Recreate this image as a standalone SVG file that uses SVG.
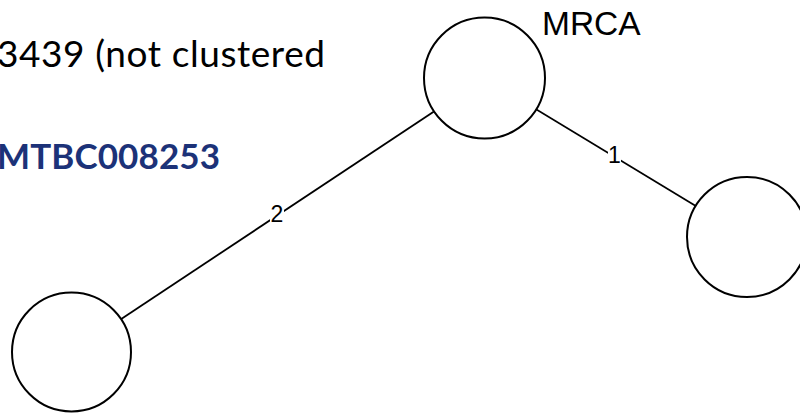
<svg xmlns="http://www.w3.org/2000/svg" width="800" height="414" viewBox="0 0 800 414">
<style>
.node{fill:#fff;stroke:#000;stroke-width:2}
.edge{stroke:#000;stroke-width:1.8}
.elab{font-family:"Liberation Sans",Arial,sans-serif;font-size:23px;fill:#000;text-anchor:middle}
.lbg{fill:#fff}
</style>
<rect width="800" height="414" fill="#fff"/>
<g id="connectors">
<line class="edge" x1="484.5" y1="78" x2="71.5" y2="352"/>
<line class="edge" x1="484.5" y1="78" x2="747" y2="237"/>
<rect class="lbg" x="270" y="204" width="14" height="18"/>
<text class="elab" x="277" y="221.5">2</text>
<rect class="lbg" x="608" y="145" width="13" height="18"/>
<text class="elab" x="614.5" y="162.5">1</text>
</g>
<g id="mrca"><circle class="node" cx="484.5" cy="78" r="60.5"/>
<text x="542" y="35" font-family="Liberation Sans,Arial,sans-serif" font-size="33.5">MRCA</text></g>
<g id="leaf1"><circle class="node" cx="747" cy="237" r="60"/></g>
<g id="leaf2"><circle class="node" cx="71.5" cy="352" r="59.5"/></g>
<g id="labels">
<text x="-3" y="67" font-family="Lato,'Open Sans',sans-serif" font-size="37" fill="#000" textLength="328">3439 (not clustered</text>
<text x="-3" y="169" font-family="Lato,'Open Sans',sans-serif" font-size="35" font-weight="bold" fill="#1c3278" textLength="223">MTBC008253</text>
</g>
</svg>
